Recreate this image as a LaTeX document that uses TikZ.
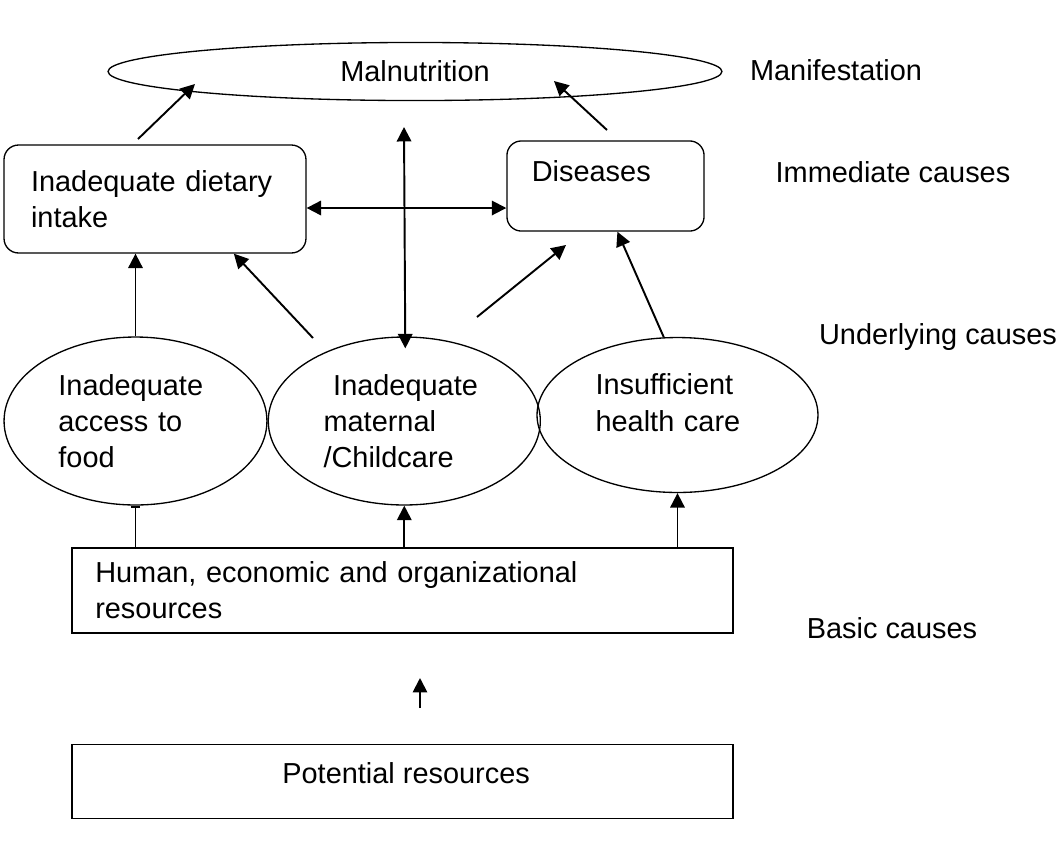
\documentclass[tikz,border=0pt]{standalone}
\usepackage{fontspec}
\setmainfont{Liberation Sans}
\usetikzlibrary{shapes.geometric,arrows.meta,positioning,calc}

\begin{document}
\begin{tikzpicture}[
x=0.415pt, y=-0.415pt,
font=\fontsize{12pt}{15pt}\selectfont,
oval/.style={
    draw,
    ellipse,
    line width=0.55pt,
    inner sep=0pt,
    align=left
},
roundbox/.style={
    draw,
    rounded corners=6pt,
    line width=0.55pt,
    inner sep=0pt,
    align=left
},
squarebox/.style={
    draw,
    line width=0.55pt,
    inner sep=0pt,
    minimum width=274.3pt,
    align=left
},
tier/.style={inner sep=0pt},
arrow/.style={-{Triangle[length=6pt,width=6pt]}, thick},
dblarrow/.style={{Triangle[length=6pt,width=6pt]}-{Triangle[length=6pt,width=6pt]}, thick},
stub/.style={-{Bar[width=4pt]}, thick}
]

\useasboundingbox (0,0) rectangle (1059,844);

% manifestation
\node[oval, minimum width=254.8pt, minimum height=24.1pt] (malnut) at (415,71.5) {Malnutrition};

% immediate causes
\node[roundbox, minimum width=125.3pt, minimum height=44.8pt, text width=102.9pt] (diet) at (155,199) {Inadequate dietary\\intake};
\node[roundbox, minimum width=81.8pt, minimum height=37.4pt,
  label={[tier, anchor=north west, xshift=10.4pt, yshift=-8.4pt]north west:Diseases}] (dis) at (605.5,186) {};

% underlying causes
\node[oval, minimum width=109.1pt, minimum height=69.7pt, text width=64pt] (acc) at (135.5,421) {Inadequate\\access to\\food};
\node[oval, minimum width=112.9pt, minimum height=69.7pt, text width=67pt, right=0pt of acc] (mat) {\ Inadequate\\maternal\\/Childcare};
\node[oval, minimum width=116.6pt, minimum height=64.3pt, text width=68pt, text depth=25.4pt] (hc) at (677.5,415) {Insufficient\\health care};

% basic causes
\node[squarebox, minimum height=35.3pt, text width=255pt] (hr) at (402.5,590.5) {Human, economic and organizational\\resources};
\node[squarebox, minimum height=30.7pt, below=45.6pt of hr,
  label={[tier, anchor=north, xshift=1.5pt, yshift=-7.5pt]north:Potential resources}] (pot) {};

% level names
\node[tier] (lvmani) at (836,70) {Manifestation};
\node[tier] (lvimm) at (893,172) {Immediate causes};
\node[tier] (lvund) at (938,337) {Underlying causes};
\node[tier] (lvbas) at (892,628) {Basic causes};

% connectors
\coordinate (dietout) at (138,139);
\coordinate (malin1) at (195,84);
\coordinate (disout) at (607,130);
\coordinate (malin2) at (554,81);
\coordinate (matout) at (313,338);
\coordinate (matout2) at (477,317);
\coordinate (disin) at (566,245);
\coordinate (vtop) at (404,127);
\coordinate (hleft) at ($(diet.east)+(0,9)$);
\coordinate (potout) at (420,708);
\coordinate (hrin) at (420,678);

\draw[arrow] (dietout) -- (malin1);
\draw[arrow] (disout) -- (malin2);
\draw[dblarrow] (hleft) -- (hleft -| dis.west);
\draw[dblarrow] (vtop) -- ($(mat.north)+(1,12)$);
\draw[arrow] (acc.north) -- (acc.north |- diet.south);
\draw[arrow] (matout) -- ($(diet.south west)!0.76!(diet.south east)$);
\draw[arrow] (matout2) -- (disin);
\draw[arrow] (hc.100) -- ($(dis.south west)!0.56!(dis.south east)$);
\draw[stub] (acc.south |- hr.north) -- (acc.south);
\draw[arrow] (mat.south |- hr.north) -- (mat.south);
\draw[arrow] (hc.south |- hr.north) -- (hc.south);
\draw[arrow] (potout) -- (hrin);

\end{tikzpicture}
\end{document}
